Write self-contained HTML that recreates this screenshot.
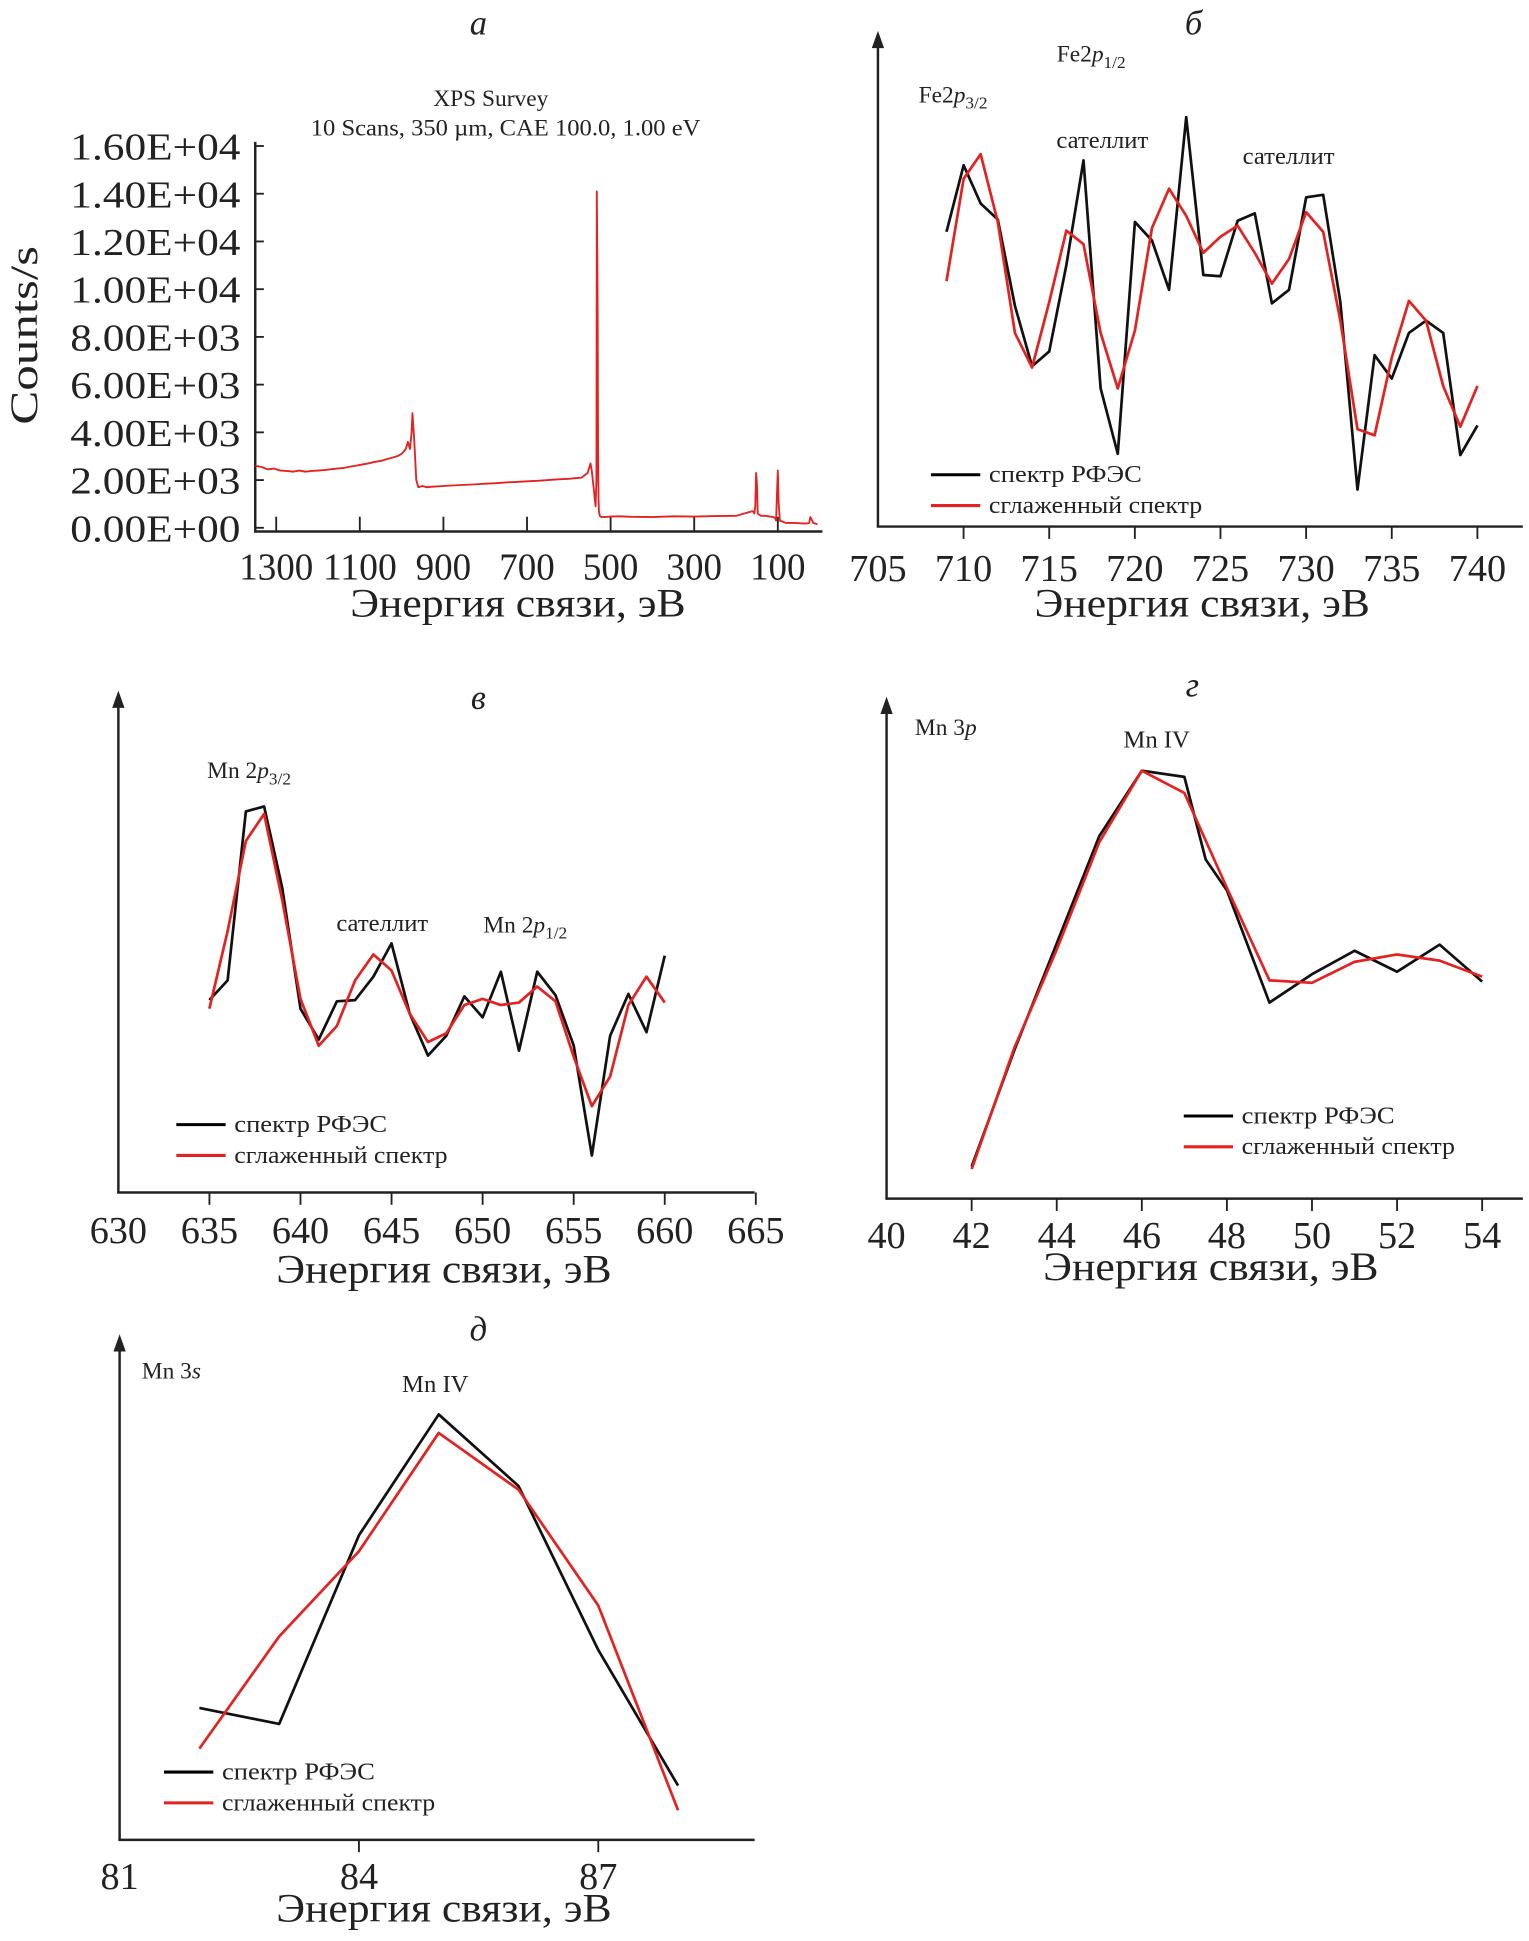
<!DOCTYPE html>
<html><head><meta charset="utf-8"><style>
html,body{margin:0;padding:0;background:#fff;}
svg{display:block;}
text{font-family:"Liberation Serif",serif;fill:#222;}
</style></head><body>
<svg id="fig" width="1529" height="1941" viewBox="0 0 1240 1574" preserveAspectRatio="none" xmlns="http://www.w3.org/2000/svg">
</svg>
<script>
// ---- Panel a: survey ----
const surveyE = [1350,1335,1320,1305,1290,1275,1260,1245,1230,1215,1200,1185,1170,1155,1140,1125,1110,1095,1080,1065,1050,1035,1020,1010,1000,995,990,985,980,976,974,970,965,960,950,940,925,900,875,850,825,800,775,750,725,700,675,650,625,600,585,570,555,548,545,540,536,534,533,532,531,530,529,528,526,522,515,500,480,450,400,350,300,250,200,180,170,160,156,154,152,150,148,140,130,110,106,104,102,100,98,95,80,60,40,30,25,22,15,5];
const surveyC = [2600,2550,2450,2480,2400,2380,2350,2400,2350,2380,2400,2420,2450,2480,2500,2560,2600,2650,2700,2760,2800,2880,2950,3000,3100,3200,3300,3600,3300,4000,4800,3700,2000,1700,1750,1700,1720,1750,1780,1800,1820,1850,1870,1900,1920,1950,1970,2000,2030,2050,2080,2100,2300,2700,2400,1600,900,2000,14100,11500,9000,3500,1200,700,500,450,450,470,480,460,450,480,470,490,500,600,650,700,600,900,2300,1800,600,500,500,450,400,300,1400,2400,1000,300,200,200,180,180,200,450,200,150,150];
const surveyYTicks = ["0.00E+00","2.00E+03","4.00E+03","6.00E+03","8.00E+03","1.00E+04","1.20E+04","1.40E+04","1.60E+04"];
const surveyXTicks = [1300,1100,900,700,500,300,100];
// ---- Panel б: Fe2p ----
const feE = [709,710,711,712,713,714,715,716,717,718,719,720,721,722,723,724,725,726,727,728,729,730,731,732,733,734,735,736,737,738,739,740];
const feRaw = [239,293,262,249,179,130,142,212,297,112,59,247,232,192,332,204,203,248,254,181,192,267,269,182,30,139,120,157,167,157,58,82];
const feSmooth = [199,282,302,247,157,129,182,240,229,157,112,159,242,274,252,222,235,244,222,197,217,255,239,167,79,74,137,183,167,114,81,114];
const feXTicks = [705,710,715,720,725,730,735,740];
// ---- Panel в: Mn2p ----
const mn2E = [635,636,637,638,639,640,641,642,643,644,645,646,647,648,649,650,651,652,653,654,655,656,657,658,659,660];
const mn2Raw = [156,172,309,313,247,149,124,155,156,175,202,145,111,127,159,142,179,115,179,160,119,30,127,161,130,192];
const mn2Smooth = [149,212,285,307,237,157,119,135,172,193,180,145,122,129,152,157,152,154,167,155,110,70,94,152,175,154];
const mn2XTicks = [630,635,640,645,650,655,660,665];
// ---- Panel г: Mn3p ----
const mn3pE = [42,43,44,45,46,47,47.5,48,49,50,51,52,53,54];
const mn3pRaw = [26,120,207,294,347,342,275,250,159,182,201,184,206,176];
const mn3pSmoothE = [42,43,44,45,46,47,48,49,50,51,52,53,54];
const mn3pSmooth = [24,122,202,289,347,329,252,177,175,192,198,193,180];
const mn3pXTicks = [40,42,44,46,48,50,52,54];
// ---- Panel д: Mn3s ----
const mn3sE = [82,83,84,85,86,87,88];
const mn3sRaw = [107,94,247,345,287,154,44];
const mn3sSmooth = [74,165,234,330,284,190,24];
const mn3sXTicks = [81,84,87];

const NS="http://www.w3.org/2000/svg";
const svg=document.getElementById('fig');
function el(tag,attrs,parent){const e=document.createElementNS(NS,tag);for(const k in attrs)e.setAttribute(k,attrs[k]);(parent||svg).appendChild(e);return e;}
function txt(x,y,s,size,parent,extra){const t=el('text',Object.assign({x:x,y:y,'font-size':size,'text-anchor':'middle'},extra||{}),parent);t.textContent=s;return t;}
function poly(xs,ys,fx,fy,color,w,g){let d='';for(let i=0;i<xs.length;i++)d+=(i?'L':'M')+fx(xs[i]).toFixed(1)+' '+fy(ys[i]).toFixed(1);return el('path',{d:d,fill:'none',stroke:color,'stroke-width':w,'stroke-linejoin':'round'},g);}
function arrowAxis(g,x,yTop,yBot,xEnd){
  el('line',{x1:x,y1:yBot,x2:x,y2:yTop+10,stroke:'#222','stroke-width':2},g);
  el('path',{d:`M${x-5} ${yTop+14} L${x} ${yTop} L${x+5} ${yTop+14} Z`,fill:'#222'},g);
  el('line',{x1:x-1,y1:yBot,x2:xEnd,y2:yBot,stroke:'#222','stroke-width':2},g);
}
const LA={lengthAdjust:'spacingAndGlyphs'};
function legend(g,x,y){
  const a=el('line',{x1:x,y1:y,x2:x+40,y2:y,stroke:'#000','stroke-width':2.5},g);
  
  const t1=txt(x+47,y+6,'спектр РФЭС',20,g,{'text-anchor':'start',textLength:124,lengthAdjust:'spacingAndGlyphs'});
  
  const b=el('line',{x1:x,y1:y+25,x2:x+40,y2:y+25,stroke:'#e32222','stroke-width':2.5},g);
  
  const t2=txt(x+47,y+31,'сглаженный спектр',20,g,{'text-anchor':'start',textLength:173,lengthAdjust:'spacingAndGlyphs'});
  
}
function xTitle(g,cx,y){const t=txt(cx,y,'Энергия связи, эВ',33,g,{textLength:272,lengthAdjust:'spacingAndGlyphs'});}

// Panel a
(function(){
  const g=el('g',{});
  const fx=E=>224+(1300-E)*0.339, fy=c=>428-c*0.01935;
  el('line',{x1:207,y1:115,x2:207,y2:431,stroke:'#222','stroke-width':2},g);
  el('line',{x1:206,y1:431,x2:667,y2:431,stroke:'#222','stroke-width':2},g);
  surveyYTicks.forEach((s,i)=>{const y=fy(i*2000);el('line',{x1:207,y1:y,x2:214,y2:y,stroke:'#222','stroke-width':1.5},g);
    const t=txt(195,y+11,s,31,g,{'text-anchor':'end',textLength:138,lengthAdjust:'spacingAndGlyphs'});});
  surveyXTicks.forEach(v=>{const x=fx(v);el('line',{x1:x,y1:431,x2:x,y2:419,stroke:'#222','stroke-width':1.5},g);
    const t=txt(x,470,String(v),31,g,{textLength:String(v).length*15,lengthAdjust:'spacingAndGlyphs'});});
  const p=poly(surveyE,surveyC,fx,fy,'#e32222',1.5,g);
  let t=txt(398,86,'XPS Survey',19,g);
  t=txt(410,110,'10 Scans, 350 µm, CAE 100.0, 1.00 eV',19,g,{textLength:316,lengthAdjust:'spacingAndGlyphs'});
  t=txt(388,28,'а',28,g,{'font-style':'italic'});
  t=txt(0,0,'Counts/s',32,g,{transform:'translate(30,272) rotate(-90)','font-family':'"Liberation Sans",sans-serif',textLength:145,lengthAdjust:'spacingAndGlyphs'});
  xTitle(g,420,500);
})();

// Panel б
(function(){
  const g=el('g',{});
  const fx=E=>712+(E-705)*13.89, fy=v=>427-v;
  arrowAxis(g,712,25,427,1235);
  feXTicks.forEach(v=>{const x=fx(v);if(v>705)el('line',{x1:x,y1:427,x2:x,y2:437,stroke:'#222','stroke-width':1.5},g);
    const t=txt(x,471,String(v),31,g);});
  let p=poly(feE,feRaw,fx,fy,'#111',2.2,g);
  p=poly(feE,feSmooth,fx,fy,'#e32222',2.2,g);
  let t=el('text',{x:857,y:50,'font-size':19},g);t.innerHTML='Fe2<tspan font-style="italic">p</tspan><tspan font-size="14" dy="5">1/2</tspan>';
  t=el('text',{x:745,y:83,'font-size':19},g);t.innerHTML='Fe2<tspan font-style="italic">p</tspan><tspan font-size="14" dy="5">3/2</tspan>';
  t=txt(894,120,'сателлит',20,g);
  t=txt(1045,133,'сателлит',20,g);
  legend(g,755,385);
  t=txt(968,28,'б',28,g,{'font-style':'italic'});
  xTitle(g,975,500);
})();

// Panel в
(function(){
  const g=el('g',{});
  const fx=E=>96+(E-630)*14.77, fy=v=>967-v;
  arrowAxis(g,96,560,967,612);
  mn2XTicks.forEach(v=>{const x=fx(v);if(v>630)el('line',{x1:x,y1:967,x2:x,y2:977,stroke:'#222','stroke-width':1.5},g);
    const t=txt(x,1008,String(v),31,g);});
  let p=poly(mn2E,mn2Raw,fx,fy,'#111',2.2,g);
  p=poly(mn2E,mn2Smooth,fx,fy,'#e32222',2.2,g);
  let t=el('text',{x:168,y:631,'font-size':19},g);t.innerHTML='Mn 2<tspan font-style="italic">p</tspan><tspan font-size="14" dy="5">3/2</tspan>';
  t=el('text',{x:392,y:756,'font-size':19},g);t.innerHTML='Mn 2<tspan font-style="italic">p</tspan><tspan font-size="14" dy="5">1/2</tspan>';
  t=txt(310,755,'сателлит',20,g);
  legend(g,143,912);
  t=txt(388,575,'в',28,g,{'font-style':'italic'});
  xTitle(g,360,1040);
})();

// Panel г
(function(){
  const g=el('g',{});
  const fx=E=>719+(E-40)*34.5, fy=v=>972-v;
  arrowAxis(g,719,565,972,1235);
  mn3pXTicks.forEach(v=>{const x=fx(v);if(v>40)el('line',{x1:x,y1:972,x2:x,y2:982,stroke:'#222','stroke-width':1.5},g);
    const t=txt(x,1012,String(v),31,g);});
  let p=poly(mn3pE,mn3pRaw,fx,fy,'#111',2.2,g);
  p=poly(mn3pSmoothE,mn3pSmooth,fx,fy,'#e32222',2.2,g);
  let t=el('text',{x:742,y:596,'font-size':19},g);t.innerHTML='Mn 3<tspan font-style="italic">p</tspan>';
  t=txt(938,606,'Mn IV',20,g);
  legend(g,960,905);
  t=txt(967,565,'г',28,g,{'font-style':'italic'});
  xTitle(g,982,1038);
})();

// Panel д
(function(){
  const g=el('g',{});
  const fx=E=>97+(E-81)*64.7, fy=v=>1492-v;
  arrowAxis(g,97,1082,1492,612);
  mn3sXTicks.forEach(v=>{const x=fx(v);if(v>81)el('line',{x1:x,y1:1492,x2:x,y2:1502,stroke:'#222','stroke-width':1.5},g);
    const t=txt(x,1532,String(v),31,g);});
  let p=poly(mn3sE,mn3sRaw,fx,fy,'#111',2.2,g);
  p=poly(mn3sE,mn3sSmooth,fx,fy,'#e32222',2.2,g);
  let t=el('text',{x:115,y:1118,'font-size':19},g);t.innerHTML='Mn 3<tspan font-style="italic">s</tspan>';
  t=txt(353,1129,'Mn IV',20,g);
  legend(g,133,1437);
  t=txt(388,1087,'д',28,g,{'font-style':'italic'});
  xTitle(g,360,1558);
})();
</script>
</body></html>
